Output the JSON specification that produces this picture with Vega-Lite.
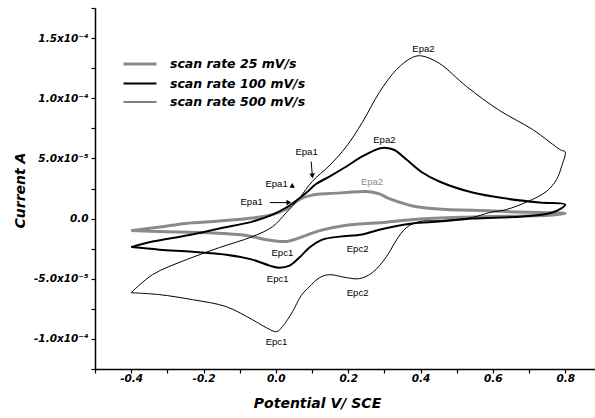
{
  "$schema": "https://vega.github.io/schema/vega-lite/v6.json",
  "width": 500,
  "height": 361,
  "autosize": {"type": "none"},
  "padding": {"left": 95, "top": 8, "right": 0, "bottom": 49},
  "background": "white",
  "config": {"view": {"stroke": null}},
  "datasets": {
    "cv": [
      {"rate": "scan rate 25 mV/s", "o": 1, "E": -0.40, "I": -1.00e-5},
      {"rate": "scan rate 25 mV/s", "o": 2, "E": -0.32, "I": -0.70e-5},
      {"rate": "scan rate 25 mV/s", "o": 3, "E": -0.25, "I": -0.40e-5},
      {"rate": "scan rate 25 mV/s", "o": 4, "E": -0.156, "I": -0.20e-5},
      {"rate": "scan rate 25 mV/s", "o": 5, "E": -0.065, "I": 0.05e-5},
      {"rate": "scan rate 25 mV/s", "o": 6, "E": -0.01, "I": 0.33e-5},
      {"rate": "scan rate 25 mV/s", "o": 7, "E": 0.03, "I": 0.80e-5},
      {"rate": "scan rate 25 mV/s", "o": 8, "E": 0.065, "I": 1.60e-5},
      {"rate": "scan rate 25 mV/s", "o": 9, "E": 0.10, "I": 1.95e-5},
      {"rate": "scan rate 25 mV/s", "o": 10, "E": 0.148, "I": 2.08e-5},
      {"rate": "scan rate 25 mV/s", "o": 11, "E": 0.195, "I": 2.16e-5},
      {"rate": "scan rate 25 mV/s", "o": 12, "E": 0.25, "I": 2.25e-5},
      {"rate": "scan rate 25 mV/s", "o": 13, "E": 0.286, "I": 2.05e-5},
      {"rate": "scan rate 25 mV/s", "o": 14, "E": 0.314, "I": 1.65e-5},
      {"rate": "scan rate 25 mV/s", "o": 15, "E": 0.378, "I": 1.05e-5},
      {"rate": "scan rate 25 mV/s", "o": 16, "E": 0.472, "I": 0.75e-5},
      {"rate": "scan rate 25 mV/s", "o": 17, "E": 0.544, "I": 0.70e-5},
      {"rate": "scan rate 25 mV/s", "o": 18, "E": 0.637, "I": 0.58e-5},
      {"rate": "scan rate 25 mV/s", "o": 19, "E": 0.729, "I": 0.50e-5},
      {"rate": "scan rate 25 mV/s", "o": 20, "E": 0.80, "I": 0.42e-5},
      {"rate": "scan rate 25 mV/s", "o": 21, "E": 0.756, "I": 0.28e-5},
      {"rate": "scan rate 25 mV/s", "o": 22, "E": 0.68, "I": 0.22e-5},
      {"rate": "scan rate 25 mV/s", "o": 23, "E": 0.527, "I": 0.12e-5},
      {"rate": "scan rate 25 mV/s", "o": 24, "E": 0.39, "I": -0.05e-5},
      {"rate": "scan rate 25 mV/s", "o": 25, "E": 0.306, "I": -0.30e-5},
      {"rate": "scan rate 25 mV/s", "o": 26, "E": 0.195, "I": -0.55e-5},
      {"rate": "scan rate 25 mV/s", "o": 27, "E": 0.121, "I": -1.00e-5},
      {"rate": "scan rate 25 mV/s", "o": 28, "E": 0.065, "I": -1.60e-5},
      {"rate": "scan rate 25 mV/s", "o": 29, "E": 0.029, "I": -1.90e-5},
      {"rate": "scan rate 25 mV/s", "o": 30, "E": -0.026, "I": -1.75e-5},
      {"rate": "scan rate 25 mV/s", "o": 31, "E": -0.081, "I": -1.40e-5},
      {"rate": "scan rate 25 mV/s", "o": 32, "E": -0.183, "I": -1.18e-5},
      {"rate": "scan rate 25 mV/s", "o": 33, "E": -0.32, "I": -1.08e-5},
      {"rate": "scan rate 25 mV/s", "o": 34, "E": -0.40, "I": -1.00e-5},

      {"rate": "scan rate 100 mV/s", "o": 1, "E": -0.40, "I": -2.37e-5},
      {"rate": "scan rate 100 mV/s", "o": 2, "E": -0.341, "I": -1.91e-5},
      {"rate": "scan rate 100 mV/s", "o": 3, "E": -0.247, "I": -1.41e-5},
      {"rate": "scan rate 100 mV/s", "o": 4, "E": -0.156, "I": -0.83e-5},
      {"rate": "scan rate 100 mV/s", "o": 5, "E": -0.065, "I": -0.25e-5},
      {"rate": "scan rate 100 mV/s", "o": 6, "E": -0.009, "I": 0.33e-5},
      {"rate": "scan rate 100 mV/s", "o": 7, "E": 0.029, "I": 0.92e-5},
      {"rate": "scan rate 100 mV/s", "o": 8, "E": 0.057, "I": 1.50e-5},
      {"rate": "scan rate 100 mV/s", "o": 9, "E": 0.085, "I": 2.16e-5},
      {"rate": "scan rate 100 mV/s", "o": 10, "E": 0.11, "I": 2.85e-5},
      {"rate": "scan rate 100 mV/s", "o": 11, "E": 0.148, "I": 3.49e-5},
      {"rate": "scan rate 100 mV/s", "o": 12, "E": 0.195, "I": 4.33e-5},
      {"rate": "scan rate 100 mV/s", "o": 13, "E": 0.239, "I": 5.16e-5},
      {"rate": "scan rate 100 mV/s", "o": 14, "E": 0.286, "I": 5.82e-5},
      {"rate": "scan rate 100 mV/s", "o": 15, "E": 0.306, "I": 5.87e-5},
      {"rate": "scan rate 100 mV/s", "o": 16, "E": 0.328, "I": 5.70e-5},
      {"rate": "scan rate 100 mV/s", "o": 17, "E": 0.361, "I": 4.91e-5},
      {"rate": "scan rate 100 mV/s", "o": 18, "E": 0.405, "I": 3.83e-5},
      {"rate": "scan rate 100 mV/s", "o": 19, "E": 0.452, "I": 3.08e-5},
      {"rate": "scan rate 100 mV/s", "o": 20, "E": 0.544, "I": 2.16e-5},
      {"rate": "scan rate 100 mV/s", "o": 21, "E": 0.637, "I": 1.66e-5},
      {"rate": "scan rate 100 mV/s", "o": 22, "E": 0.729, "I": 1.33e-5},
      {"rate": "scan rate 100 mV/s", "o": 23, "E": 0.80, "I": 1.16e-5},
      {"rate": "scan rate 100 mV/s", "o": 24, "E": 0.764, "I": 0.50e-5},
      {"rate": "scan rate 100 mV/s", "o": 25, "E": 0.682, "I": 0.17e-5},
      {"rate": "scan rate 100 mV/s", "o": 26, "E": 0.544, "I": 0.0},
      {"rate": "scan rate 100 mV/s", "o": 27, "E": 0.452, "I": -0.25e-5},
      {"rate": "scan rate 100 mV/s", "o": 28, "E": 0.378, "I": -0.40e-5},
      {"rate": "scan rate 100 mV/s", "o": 29, "E": 0.286, "I": -0.92e-5},
      {"rate": "scan rate 100 mV/s", "o": 30, "E": 0.239, "I": -1.33e-5},
      {"rate": "scan rate 100 mV/s", "o": 31, "E": 0.176, "I": -1.50e-5},
      {"rate": "scan rate 100 mV/s", "o": 32, "E": 0.129, "I": -1.75e-5},
      {"rate": "scan rate 100 mV/s", "o": 33, "E": 0.093, "I": -2.41e-5},
      {"rate": "scan rate 100 mV/s", "o": 34, "E": 0.065, "I": -3.24e-5},
      {"rate": "scan rate 100 mV/s", "o": 35, "E": 0.038, "I": -3.91e-5},
      {"rate": "scan rate 100 mV/s", "o": 36, "E": 0.010, "I": -4.08e-5},
      {"rate": "scan rate 100 mV/s", "o": 37, "E": -0.017, "I": -3.91e-5},
      {"rate": "scan rate 100 mV/s", "o": 38, "E": -0.065, "I": -3.41e-5},
      {"rate": "scan rate 100 mV/s", "o": 39, "E": -0.137, "I": -3.00e-5},
      {"rate": "scan rate 100 mV/s", "o": 40, "E": -0.230, "I": -2.75e-5},
      {"rate": "scan rate 100 mV/s", "o": 41, "E": -0.322, "I": -2.58e-5},
      {"rate": "scan rate 100 mV/s", "o": 42, "E": -0.40, "I": -2.37e-5},

      {"rate": "scan rate 500 mV/s", "o": 1, "E": -0.40, "I": -6.16e-5},
      {"rate": "scan rate 500 mV/s", "o": 2, "E": -0.341, "I": -4.66e-5},
      {"rate": "scan rate 500 mV/s", "o": 3, "E": -0.247, "I": -3.41e-5},
      {"rate": "scan rate 500 mV/s", "o": 4, "E": -0.156, "I": -2.41e-5},
      {"rate": "scan rate 500 mV/s", "o": 5, "E": -0.065, "I": -1.50e-5},
      {"rate": "scan rate 500 mV/s", "o": 6, "E": -0.009, "I": -0.67e-5},
      {"rate": "scan rate 500 mV/s", "o": 7, "E": 0.029, "I": 0.50e-5},
      {"rate": "scan rate 500 mV/s", "o": 8, "E": 0.065, "I": 1.70e-5},
      {"rate": "scan rate 500 mV/s", "o": 9, "E": 0.101, "I": 3.10e-5},
      {"rate": "scan rate 500 mV/s", "o": 10, "E": 0.148, "I": 4.40e-5},
      {"rate": "scan rate 500 mV/s", "o": 11, "E": 0.195, "I": 5.99e-5},
      {"rate": "scan rate 500 mV/s", "o": 12, "E": 0.239, "I": 7.99e-5},
      {"rate": "scan rate 500 mV/s", "o": 13, "E": 0.286, "I": 10.48e-5},
      {"rate": "scan rate 500 mV/s", "o": 14, "E": 0.334, "I": 12.40e-5},
      {"rate": "scan rate 500 mV/s", "o": 15, "E": 0.378, "I": 13.40e-5},
      {"rate": "scan rate 500 mV/s", "o": 16, "E": 0.403, "I": 13.52e-5},
      {"rate": "scan rate 500 mV/s", "o": 17, "E": 0.452, "I": 12.90e-5},
      {"rate": "scan rate 500 mV/s", "o": 18, "E": 0.527, "I": 10.98e-5},
      {"rate": "scan rate 500 mV/s", "o": 19, "E": 0.618, "I": 8.99e-5},
      {"rate": "scan rate 500 mV/s", "o": 20, "E": 0.71, "I": 7.40e-5},
      {"rate": "scan rate 500 mV/s", "o": 21, "E": 0.79, "I": 5.66e-5},
      {"rate": "scan rate 500 mV/s", "o": 22, "E": 0.80, "I": 5.57e-5},
      {"rate": "scan rate 500 mV/s", "o": 23, "E": 0.79, "I": 4.33e-5},
      {"rate": "scan rate 500 mV/s", "o": 24, "E": 0.776, "I": 3.24e-5},
      {"rate": "scan rate 500 mV/s", "o": 25, "E": 0.748, "I": 2.25e-5},
      {"rate": "scan rate 500 mV/s", "o": 26, "E": 0.696, "I": 1.41e-5},
      {"rate": "scan rate 500 mV/s", "o": 27, "E": 0.637, "I": 0.75e-5},
      {"rate": "scan rate 500 mV/s", "o": 28, "E": 0.591, "I": 0.50e-5},
      {"rate": "scan rate 500 mV/s", "o": 29, "E": 0.544, "I": 0.10e-5},
      {"rate": "scan rate 500 mV/s", "o": 30, "E": 0.452, "I": -0.17e-5},
      {"rate": "scan rate 500 mV/s", "o": 31, "E": 0.397, "I": -0.25e-5},
      {"rate": "scan rate 500 mV/s", "o": 32, "E": 0.361, "I": -0.75e-5},
      {"rate": "scan rate 500 mV/s", "o": 33, "E": 0.334, "I": -1.75e-5},
      {"rate": "scan rate 500 mV/s", "o": 34, "E": 0.306, "I": -3.16e-5},
      {"rate": "scan rate 500 mV/s", "o": 35, "E": 0.267, "I": -4.49e-5},
      {"rate": "scan rate 500 mV/s", "o": 36, "E": 0.231, "I": -4.99e-5},
      {"rate": "scan rate 500 mV/s", "o": 37, "E": 0.195, "I": -4.91e-5},
      {"rate": "scan rate 500 mV/s", "o": 38, "E": 0.148, "I": -4.66e-5},
      {"rate": "scan rate 500 mV/s", "o": 39, "E": 0.121, "I": -4.91e-5},
      {"rate": "scan rate 500 mV/s", "o": 40, "E": 0.093, "I": -5.66e-5},
      {"rate": "scan rate 500 mV/s", "o": 41, "E": 0.07, "I": -6.40e-5},
      {"rate": "scan rate 500 mV/s", "o": 42, "E": 0.046, "I": -7.74e-5},
      {"rate": "scan rate 500 mV/s", "o": 43, "E": 0.018, "I": -8.99e-5},
      {"rate": "scan rate 500 mV/s", "o": 44, "E": 0.002, "I": -9.40e-5},
      {"rate": "scan rate 500 mV/s", "o": 45, "E": -0.026, "I": -9.07e-5},
      {"rate": "scan rate 500 mV/s", "o": 46, "E": -0.065, "I": -8.40e-5},
      {"rate": "scan rate 500 mV/s", "o": 47, "E": -0.137, "I": -7.32e-5},
      {"rate": "scan rate 500 mV/s", "o": 48, "E": -0.230, "I": -6.74e-5},
      {"rate": "scan rate 500 mV/s", "o": 49, "E": -0.322, "I": -6.32e-5},
      {"rate": "scan rate 500 mV/s", "o": 50, "E": -0.40, "I": -6.16e-5}
    ],
    "labels": [
      {"t": "Epa2", "E": 0.408, "I": 1.41e-4, "curve": "500"},
      {"t": "Epa2", "E": 0.30, "I": 6.57e-5, "curve": "100"},
      {"t": "Epa2", "E": 0.266, "I": 3.0e-5, "curve": "25"},
      {"t": "Epa1", "E": 0.085, "I": 5.5e-5, "curve": "500"},
      {"t": "Epa1", "E": 0.002, "I": 2.9e-5, "curve": "100"},
      {"t": "Epa1", "E": -0.067, "I": 1.36e-5, "curve": "25b"},
      {"t": "Epc1", "E": 0.018, "I": -2.83e-5, "curve": "25b"},
      {"t": "Epc1", "E": 0.005, "I": -4.99e-5, "curve": "100"},
      {"t": "Epc1", "E": 0.002, "I": -1.023e-4, "curve": "500"},
      {"t": "Epc2", "E": 0.226, "I": -2.5e-5, "curve": "100"},
      {"t": "Epc2", "E": 0.226, "I": -6.16e-5, "curve": "500"}
    ],
    "arrows": [
      {"E": 0.0977, "I": 4.74e-5, "E2": 0.101, "I2": 3.5e-5},
      {"E": -0.017, "I": 1.33e-5, "E2": 0.036, "I2": 1.33e-5}
    ],
    "heads": [
      {"E": 0.101, "I": 3.55e-5, "dir": 175},
      {"E": 0.047, "I": 2.65e-5, "dir": 125},
      {"E": 0.036, "I": 1.33e-5, "dir": 90}
    ]
  },
  "encoding": {
    "x": {
      "field": "E", "type": "quantitative",
      "scale": {"domain": [-0.5, 0.8824], "nice": false, "zero": false},
      "axis": {
        "values": [-0.5, -0.4, -0.3, -0.2, -0.1, 0, 0.1, 0.2, 0.3, 0.4, 0.5, 0.6, 0.7, 0.8],
        "labelExpr": "round(datum.value*10) % 2 != 0 ? '' : (datum.value < -0.001 ? '-' : '') + format(abs(datum.value), '.1f')",
        "tickSize": 4,
        "grid": false,
        "title": "Potential V/ SCE",
        "domainColor": "black", "domainWidth": 1.5,
        "tickColor": "black", "tickWidth": 1.2,
        "labelFont": "DejaVu Sans", "labelFontStyle": "italic", "labelFontWeight": "bold",
        "labelFontSize": 10.5, "labelColor": "black", "labelPadding": 0,
        "titleFont": "DejaVu Sans", "titleFontStyle": "italic", "titleFontWeight": "bold",
        "titleFontSize": 14, "titleColor": "black",
        "titleX": 222, "titleY": 34, "titleBaseline": "middle", "titleAlign": "center"
      }
    },
    "y": {
      "field": "I", "type": "quantitative",
      "scale": {"domain": [-1.25e-4, 1.75e-4], "nice": false, "zero": false},
      "axis": {
        "values": [-1.25e-4, -1e-4, -7.5e-5, -5e-5, -2.5e-5, 0, 2.5e-5, 5e-5, 7.5e-5, 1e-4, 1.25e-4, 1.5e-4, 1.75e-4],
        "labelExpr": "abs(datum.value) < 1e-9 ? '0.0' : (round(datum.value*4e4) % 2 != 0 ? '' : (abs(datum.value) >= 9.9e-5 ? (datum.value < 0 ? '-' : '') + format(abs(datum.value)*1e4, '.1f') + 'x10⁻⁴' : (datum.value < 0 ? '-' : '') + format(abs(datum.value)*1e5, '.1f') + 'x10⁻⁵'))",
        "tickSize": 4,
        "grid": false,
        "title": "Current A",
        "domainColor": "black", "domainWidth": 1.5,
        "tickColor": "black", "tickWidth": 1.2,
        "labelFont": "DejaVu Sans", "labelFontStyle": "italic", "labelFontWeight": "bold",
        "labelFontSize": 10.5, "labelColor": "black", "labelPadding": 3,
        "titleFont": "DejaVu Sans", "titleFontStyle": "italic", "titleFontWeight": "bold",
        "titleFontSize": 14, "titleColor": "black",
        "titleX": -75, "titleY": 182, "titleAngle": 270, "titleBaseline": "middle", "titleAlign": "center"
      }
    }
  },
  "layer": [
    {
      "data": {"name": "cv"},
      "mark": {"type": "line", "interpolate": "catmull-rom", "clip": true},
      "encoding": {
        "order": {"field": "o", "type": "quantitative"},
        "color": {
          "field": "rate", "type": "nominal",
          "scale": {"type": "ordinal", "domain": ["scan rate 25 mV/s", "scan rate 100 mV/s", "scan rate 500 mV/s"], "range": ["#8a8a8a", "#000000", "#000000"]},
          "legend": {
            "orient": "none", "legendX": 35, "legendY": 46, "title": null,
            "symbolType": "M-2,0H2", "symbolSize": 272,
            "labelFont": "DejaVu Sans", "labelFontStyle": "italic", "labelFontWeight": "bold",
            "labelFontSize": 12.5, "labelColor": "black", "labelOffset": 20,
            "rowPadding": 3, "padding": 0
          }
        },
        "strokeWidth": {
          "field": "rate", "type": "nominal",
          "scale": {"type": "ordinal", "domain": ["scan rate 25 mV/s", "scan rate 100 mV/s", "scan rate 500 mV/s"], "range": [3, 2, 1]},
          "legend": {
            "orient": "none", "legendX": 35, "legendY": 46, "title": null,
            "symbolType": "M-2,0H2", "symbolSize": 272,
            "labelFont": "DejaVu Sans", "labelFontStyle": "italic", "labelFontWeight": "bold",
            "labelFontSize": 12.5, "labelColor": "black", "labelOffset": 20,
            "rowPadding": 3, "padding": 0
          }
        }
      }
    },
    {
      "data": {"name": "arrows"},
      "mark": {"type": "rule", "color": "black", "strokeWidth": 1},
      "encoding": {
        "x2": {"field": "E2"},
        "y2": {"field": "I2"}
      }
    },
    {
      "data": {"name": "heads"},
      "mark": {"type": "point", "shape": "triangle-up", "filled": true, "color": "black", "opacity": 1, "size": 30},
      "encoding": {
        "angle": {"field": "dir", "type": "quantitative", "scale": null}
      }
    },
    {
      "data": {"name": "labels"},
      "mark": {"type": "text", "font": "Liberation Sans", "fontSize": 9.5},
      "encoding": {
        "text": {"field": "t"},
        "color": {"condition": {"test": "datum.curve === '25'", "value": "#8a8a8a"}, "value": "black"}
      }
    }
  ]
}
